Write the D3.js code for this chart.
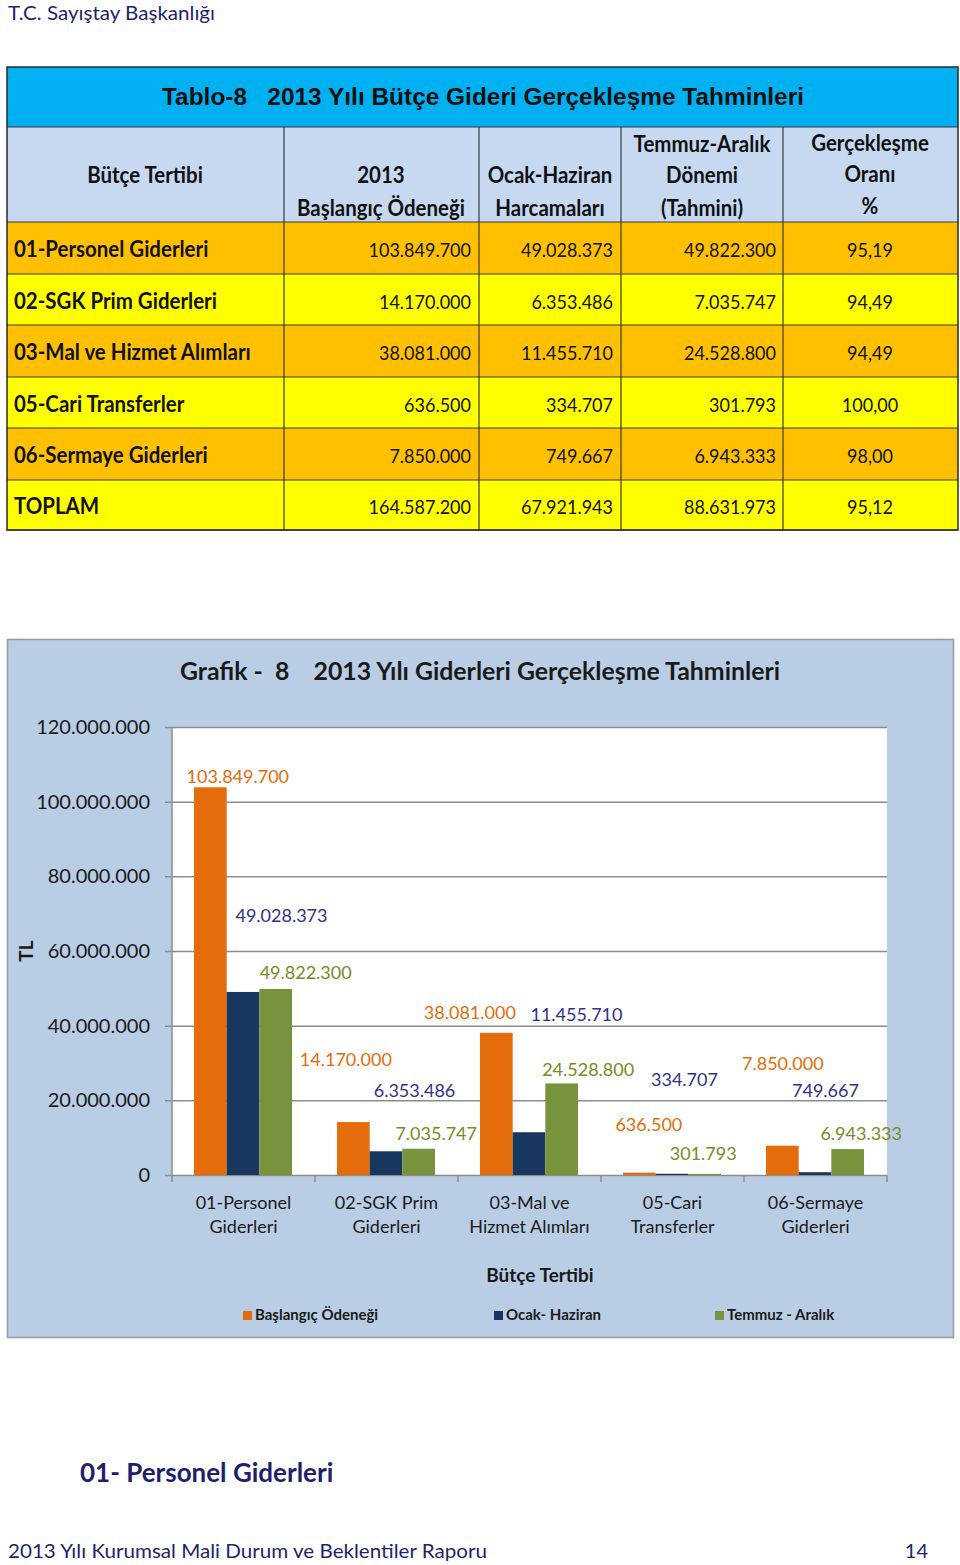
<!DOCTYPE html>
<html><head><meta charset="utf-8">
<script src="https://cdn.jsdelivr.net/npm/d3@7"></script>
<style>body{margin:0;background:#fff}svg{display:block}</style>
</head><body>
<script>
// ---------- data ----------
const categories = ["01-Personel Giderleri","02-SGK Prim Giderleri","03-Mal ve Hizmet Alımları","05-Cari Transferler","06-Sermaye Giderleri"];
const chartCatLines = [["01-Personel","Giderleri"],["02-SGK Prim","Giderleri"],["03-Mal ve","Hizmet Alımları"],["05-Cari","Transferler"],["06-Sermaye","Giderleri"]];
const seriesNames = ["Başlangıç Ödeneği","Ocak- Haziran","Temmuz - Aralık"];
const baslangic   = [103849700, 14170000, 38081000, 636500, 7850000];
const ocakHaziran = [49028373, 6353486, 11455710, 334707, 749667];
const temmuzAralik= [49822300, 7035747, 24528800, 301793, 6943333];
const totalLabel = "TOPLAM";
const totals = [164587200, 67921943, 88631973];
const oran = ["95,19","94,49","94,49","100,00","98,00","95,12"];
const yTicks = [0, 20000000, 40000000, 60000000, 80000000, 100000000, 120000000];

// ---------- layout (not data) ----------
const labelOffsets = [
  [[27.5,-4],[38.5,-70],[30,-10]],
  [[-7.5,-56],[28.5,-54],[17.5,-9]],
  [[-26.5,-14],[47.5,-111],[26.5,-7]],
  [[9.5,-42],[12.5,-88],[-1.5,-14]],
  [[0.5,-76],[10.5,-75],[13.5,-9]]
];
const barColors = ["#e46c0a","#17375e","#77933c"];
const labelColors = ["#e46c0a","#31318a","#7a8a24"];
const navy = "#1f1f6b";
const F = "Lato, 'Open Sans', sans-serif";

const loc = d3.formatLocale({decimal:",", thousands:".", grouping:[3], currency:["",""]});
const fmt = loc.format(",d");

const svg = d3.select("body").append("svg").attr("width",960).attr("height",1565);

function fit(sel, w){ const n = sel.node(); const L = n.getComputedTextLength(); if (Math.abs(L-w) > 1) sel.attr("textLength", w).attr("lengthAdjust","spacingAndGlyphs"); return sel; }
function condense(sel, k){ const n = sel.node(); const L = n.getComputedTextLength(); sel.attr("textLength", L*k).attr("lengthAdjust","spacingAndGlyphs"); return sel; }

// header
fit(svg.append("text").attr("x",8).attr("y",20).attr("font-family",F).attr("font-size",20).attr("fill",navy).text("T.C. Sayıştay Başkanlığı"),207);

// ---------- table ----------
const colX = [7,284,479,621,783,958];
const rowY = [222,274,325,377,428,480,530];
const t = svg.append("g");
t.append("rect").attr("x",7).attr("y",67).attr("width",951).attr("height",60).attr("fill","#00b0f0");
t.append("rect").attr("x",7).attr("y",127).attr("width",951).attr("height",95).attr("fill","#c6d9f1");
const rowNames = categories.concat([totalLabel]);
const rowVals = categories.map((c,i)=>[baslangic[i],ocakHaziran[i],temmuzAralik[i]]).concat([totals]);
rowNames.forEach((name,i)=>{
  t.append("rect").attr("x",7).attr("y",rowY[i]).attr("width",951).attr("height",rowY[i+1]-rowY[i])
    .attr("fill", i%2===0 ? "#ffc000" : "#ffff00");
});
const lc = "#3a3a3a";
rowY.forEach(y=> t.append("line").attr("x1",7).attr("x2",958).attr("y1",y).attr("y2",y).attr("stroke",lc).attr("stroke-width",1.2));
t.append("line").attr("x1",7).attr("x2",958).attr("y1",127).attr("y2",127).attr("stroke",lc).attr("stroke-width",1.2);
colX.slice(1,5).forEach(x=> t.append("line").attr("x1",x).attr("x2",x).attr("y1",127).attr("y2",530).attr("stroke",lc).attr("stroke-width",1.2));
t.append("rect").attr("x",7).attr("y",67).attr("width",951).attr("height",463).attr("fill","none").attr("stroke","#2a2a2a").attr("stroke-width",1.5);

fit(t.append("text").attr("x",483).attr("y",105).attr("text-anchor","middle").attr("font-family","'Liberation Sans', Arial, sans-serif").attr("font-weight","bold").attr("font-size",24).attr("fill","#111").attr("xml:space","preserve").text("Tablo-8   2013 Yılı Bütçe Gideri Gerçekleşme Tahminleri"),642);

const hdr = [
  [145,[[183,"Bütçe Tertibi"]]],
  [381,[[183,"2013"],[216,"Başlangıç Ödeneği"]]],
  [550,[[183,"Ocak-Haziran"],[216,"Harcamaları"]]],
  [702,[[152,"Temmuz-Aralık"],[183,"Dönemi"],[216,"(Tahmini)"]]],
  [870,[[151,"Gerçekleşme"],[182,"Oranı"],[214,"%"]]]
];
hdr.forEach(([cx,lines])=>lines.forEach(([y,s])=>{
  condense(t.append("text").attr("x",cx).attr("y",y).attr("text-anchor","middle").attr("font-family",F).attr("font-weight","bold").attr("font-size",22).attr("fill","#111").text(s),0.93);
}));
rowNames.forEach((name,i)=>{
  const yb = (rowY[i]+rowY[i+1])/2 + 9;
  condense(t.append("text").attr("x",14).attr("y",yb).attr("font-family",F).attr("font-weight","bold").attr("font-size",22).attr("fill","#111").text(name),0.93);
  const rx = [471,613,776];
  rowVals[i].forEach((v,j)=>{
    condense(t.append("text").attr("x",rx[j]).attr("y",yb).attr("text-anchor","end").attr("font-family",F).attr("font-size",20).attr("fill","#111").text(fmt(v)),0.9);
  });
  condense(t.append("text").attr("x",870).attr("y",yb).attr("text-anchor","middle").attr("font-family",F).attr("font-size",20).attr("fill","#111").text(oran[i]),0.9);
});

// ---------- chart ----------
const c = svg.append("g");
c.append("rect").attr("x",7.5).attr("y",639.5).attr("width",946).attr("height",698).attr("fill","#b9cde5").attr("stroke","#8f9aa6").attr("stroke-width",1.5);
fit(c.append("text").attr("x",480).attr("y",680).attr("text-anchor","middle").attr("font-family",F).attr("font-weight","bold").attr("font-size",24).attr("fill","#1a1a1a").attr("xml:space","preserve").text("Grafik -  8    2013 Yılı Giderleri Gerçekleşme Tahminleri"),600);

const x0 = d3.scaleBand().domain(categories).range([172,887]).paddingInner(0).paddingOuter(0);
const x1 = d3.scaleBand().domain([0,1,2]).range([22,120]);
const y = d3.scaleLinear().domain([0,120000000]).range([1175,727]);

c.append("rect").attr("x",172).attr("y",y(120000000)).attr("width",715).attr("height",y(0)-y(120000000)).attr("fill","#fff");

c.append("g").selectAll("line").data(yTicks).join("line")
  .attr("x1",165).attr("x2",887).attr("y1",d=>y(d)+0.5).attr("y2",d=>y(d)+0.5).attr("stroke","#8c8c8c").attr("stroke-width",1.5);
c.append("line").attr("x1",172).attr("x2",172).attr("y1",y(120000000)).attr("y2",y(0)).attr("stroke","#8c8c8c").attr("stroke-width",1.5);
c.append("g").selectAll("text").data(yTicks).join("text")
  .attr("x",150).attr("y",d=>y(d)+7).attr("text-anchor","end").attr("font-family",F).attr("font-size",20).attr("fill","#1a1a1a").text(d=>fmt(d));

const bounds = categories.map(cat=>x0(cat)).concat([x0(categories[4])+x0.bandwidth()]);
c.append("g").selectAll("line").data(bounds).join("line")
  .attr("x1",d=>d).attr("x2",d=>d).attr("y1",y(0)).attr("y2",y(0)+7).attr("stroke","#8c8c8c").attr("stroke-width",1.5);

const seriesData = [baslangic, ocakHaziran, temmuzAralik];
const bars = [];
categories.forEach((cat,i)=>seriesData.forEach((arr,j)=>bars.push({cat,i,j,v:arr[i]})));
c.append("g").selectAll("rect").data(bars).join("rect")
  .attr("x",d=>x0(d.cat)+x1(d.j)).attr("width",x1.bandwidth())
  .attr("y",d=>y(d.v)).attr("height",d=>Math.max(0,y(0)-y(d.v))).attr("fill",d=>barColors[d.j]);

c.append("g").selectAll("text").data(bars).join("text")
  .attr("x",d=>x0(d.cat)+x1(d.j)+x1.bandwidth()/2+labelOffsets[d.i][d.j][0])
  .attr("y",d=>y(d.v)+labelOffsets[d.i][d.j][1])
  .attr("text-anchor","middle").attr("font-family",F).attr("font-size",18).attr("fill",d=>labelColors[d.j])
  .text(d=>fmt(d.v));

categories.forEach((cat,i)=>{
  const cx = x0(cat)+x0.bandwidth()/2;
  chartCatLines[i].forEach((s,k)=>{
    c.append("text").attr("x",cx).attr("y",1209+k*24).attr("text-anchor","middle").attr("font-family",F).attr("font-size",18).attr("fill","#1a1a1a").text(s);
  });
});
c.append("text").attr("x",540).attr("y",1282).attr("text-anchor","middle").attr("font-family",F).attr("font-weight","bold").attr("font-size",19).attr("fill","#1a1a1a").text("Bütçe Tertibi");
c.append("text").attr("transform","translate(33,951) rotate(-90)").attr("text-anchor","middle").attr("font-family",F).attr("font-weight","bold").attr("font-size",19).attr("fill","#1a1a1a").text("TL");

const legX = [243,494,715];
seriesNames.forEach((s,j)=>{
  c.append("rect").attr("x",legX[j]).attr("y",1311).attr("width",9).attr("height",9).attr("fill",barColors[j]);
  c.append("text").attr("x",legX[j]+12).attr("y",1320).attr("font-family",F).attr("font-weight","bold").attr("font-size",15).attr("fill","#1a1a1a").text(s);
});

svg.append("text").attr("x",80).attr("y",1482).attr("font-family",F).attr("font-weight","bold").attr("font-size",26).attr("fill",navy).text("01- Personel Giderleri");
fit(svg.append("text").attr("x",8).attr("y",1558).attr("font-family",F).attr("font-size",20).attr("fill",navy).text("2013 Yılı Kurumsal Mali Durum ve Beklentiler Raporu"),479);
svg.append("text").attr("x",928).attr("y",1558).attr("text-anchor","end").attr("font-family",F).attr("font-size",20).attr("fill",navy).text("14");
</script>
</body></html>
